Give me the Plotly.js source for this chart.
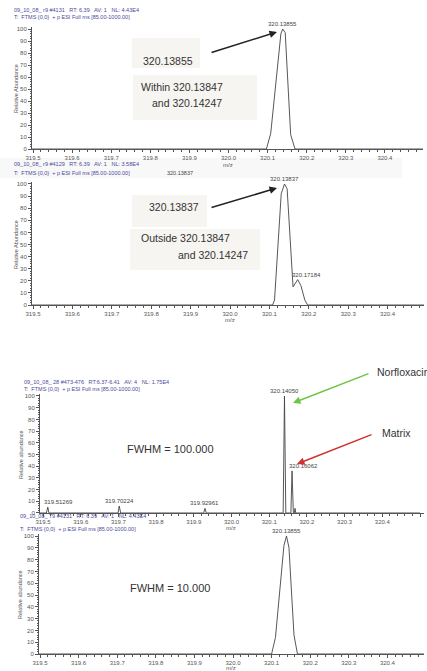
<!DOCTYPE html>
<html><head><meta charset="utf-8">
<script src="https://cdn.plot.ly/plotly-3.0.1.min.js"></script>
<style>html,body{margin:0;padding:0;background:#fff}#chart{width:427px;height:671px}</style>
</head><body><div id="chart"></div>
<script>
// ---------- data ----------
// Panel 1: scan #4131, profile peak 320.13855
const p1_mz  = [319.49, 320.097, 320.108, 320.134, 320.1386, 320.145, 320.159, 320.170, 320.50];
const p1_int = [0, 0, 13, 96, 100, 97, 12, 0, 0];
const p1_peak_mz = [320.13855];
const p1_peak_int = [100];
const p1_peak_txt = ['320.13855'];

// Panel 2: scan #4129, peaks 320.13837 and 320.17184
const p2_mz  = [319.49, 320.108, 320.113, 320.130, 320.1384, 320.145, 320.160, 320.1718, 320.180, 320.190, 320.197, 320.50];
const p2_int = [0, 0, 4, 92, 100, 96, 15, 21, 16, 4, 0, 0];
const p2_peak_mz = [320.13837, 320.17184];
const p2_peak_int = [100, 21];
const p2_peak_txt = ['320.13837', '320.17184'];

// Panel 3: FWHM = 100.000
const p3_mz  = [319.49, 319.509, 319.5127, 319.516, 319.699, 319.7022, 319.706, 319.926, 319.9296, 319.933,
                320.137, 320.1405, 320.144, 320.1575, 320.1606, 320.164, 320.1665, 320.1685, 320.1705, 320.50];
const p3_int = [0, 0, 5, 0, 0, 6, 0, 0, 4, 0, 0, 100, 0, 0, 36, 0, 0, 4, 0, 0];
const p3_peak_mz = [320.14050, 320.16062, 319.51269, 319.70224, 319.92961];
const p3_peak_int = [100, 36, 5, 6, 4];
const p3_peak_txt = ['320.14050', '320.16062', '319.51269', '319.70224', '319.92961'];

// Panel 4: FWHM = 10.000 (scan #4131)
const p4_mz  = [319.49, 320.100, 320.110, 320.132, 320.1386, 320.145, 320.158, 320.167, 320.50];
const p4_int = [0, 0, 14, 92, 100, 90, 16, 0, 0];
const p4_peak_mz = [320.13855];
const p4_peak_int = [100];
const p4_peak_txt = ['320.13855'];

const headers = [
  ['09_10_08_ r9 #4131   RT: 6.39   AV: 1   NL: 4.43E4', 'T:  FTMS {0,0}  + p ESI Full ms [85.00-1000.00]'],
  ['09_10_08_ r9 #4129   RT: 6.39   AV: 1   NL: 3.58E4', 'T:  FTMS {0,0}  + p ESI Full ms [85.00-1000.00]'],
  ['09_10_08_ 28 #473-476   RT:6.37-6.41   AV: 4   NL: 1.75E4', 'T:  FTMS {0,0}  + p ESI Full ms [85.00-1000.00]'],
  ['09_10_08_ 79 #4131   RT: 6.39   AV: 1   NL: 4.43E4', 'T:  FTMS {0,0}  + p ESI Full ms [85.00-1000.00]']
];
const yTitles = ['Relative Abundance', 'Relative Abundance', 'Relative abundance', 'Relative abundance'];

// ---------- layout helpers ----------
const W = 427, H = 671;
const FONT = 'Arial, "Liberation Sans", sans-serif';
const px = x => x / W;
const py = y => 1 - y / H;

function axes(s) {
  const yppu = (s.y0 - s.y100) / 100;
  const ymax = 101.5;
  const topPx = s.y100 - (ymax - 100) * yppu;
  const x0 = 319.5 + (s.left - s.xPx0) / s.ppu;
  const x1 = 319.5 + (s.right - s.xPx0) / s.ppu;
  const common = {
    showline: true, linecolor: '#555', linewidth: 1, showgrid: false, zeroline: false,
    ticks: 'outside', tickcolor: '#555', tickwidth: 1,
    tickfont: {family: FONT, size: 6, color: '#555'}
  };
  return {
    x: Object.assign({}, common, {
      domain: [px(s.left), px(s.right)], range: [x0, x1],
      tick0: 319.5, dtick: 0.1, tickformat: '.1f', ticklen: 3,
      minor: {tick0: 319.5, dtick: 0.02, ticks: 'outside', ticklen: 2, tickcolor: '#555', showgrid: false}
    }),
    y: Object.assign({}, common, {
      domain: [py(s.y0), py(topPx)], range: [0, ymax],
      tick0: 0, dtick: 10, ticklen: 3,
      minor: {tick0: 0, dtick: 2, ticks: 'outside', ticklen: 1.5, tickcolor: '#555', showgrid: false}
    })
  };
}

const specs = [
  {y0: 149, y100: 29,  xPx0: 33, ppu: 391, left: 32, right: 423, n: ''},
  {y0: 305, y100: 184, xPx0: 33, ppu: 394, left: 32, right: 424, n: '2'},
  {y0: 513, y100: 396, xPx0: 43, ppu: 377, left: 40, right: 424, n: '3'},
  {y0: 654, y100: 536, xPx0: 40, ppu: 386, left: 39, right: 424, n: '4'}
];

const layout = {
  width: W, height: H, margin: {l: 0, r: 0, t: 0, b: 0},
  paper_bgcolor: '#fff', plot_bgcolor: 'rgba(0,0,0,0)', showlegend: false,
  font: {family: FONT, color: '#333'},
  annotations: [], shapes: []
};
specs.forEach((s, i) => {
  const a = axes(s);
  a.x.anchor = 'y' + s.n; a.y.anchor = 'x' + s.n;
  layout['xaxis' + s.n] = a.x;
  layout['yaxis' + s.n] = a.y;
});

// ---------- traces ----------
const series = [[p1_mz, p1_int], [p2_mz, p2_int], [p3_mz, p3_int], [p4_mz, p4_int]];
const traces = series.map((d, i) => ({
  type: 'scatter', mode: 'lines', x: d[0], y: d[1],
  xaxis: 'x' + specs[i].n, yaxis: 'y' + specs[i].n,
  line: {color: '#444', width: 0.9}, hoverinfo: 'skip'
}));

// ---------- shapes (background boxes) ----------
function box(x0, y0, x1, y1, fill) {
  layout.shapes.push({type: 'rect', xref: 'paper', yref: 'paper', layer: 'below',
    x0: px(x0), x1: px(x1), y0: py(y1), y1: py(y0), fillcolor: fill, line: {width: 0}});
}
box(132, 38, 200, 68, '#f7f5f1');
box(133, 75, 257, 120, '#f7f5f1');
box(0, 158, 402, 178, '#f8f8f8');
box(132, 195, 207, 227, '#f7f5f1');
box(130, 229, 260, 270, '#f7f5f1');

// ---------- annotations ----------
function txt(t, x, y, size, color, anchor, extra) {
  layout.annotations.push(Object.assign({text: t, xref: 'paper', yref: 'paper', x: px(x), y: py(y),
    xanchor: anchor || 'center', yanchor: 'middle', showarrow: false,
    font: {family: FONT, size: size, color: color}}, extra || {}));
}
function arrow(hx, hy, tx, ty, color) {
  layout.annotations.push({text: '', xref: 'paper', yref: 'paper', x: px(hx), y: py(hy),
    ax: tx - hx, ay: ty - hy, showarrow: true, arrowhead: 2, arrowsize: 1, arrowwidth: 1.5,
    arrowcolor: color});
}
function peakLabels(n, mz, it, tx, shifts) {
  mz.forEach((m, i) => layout.annotations.push({text: tx[i], xref: 'x' + n, yref: 'y' + n,
    x: m, y: it[i], xanchor: 'center', yanchor: 'bottom', yshift: 0, xshift: (shifts && shifts[i]) || 0,
    showarrow: false, font: {family: FONT, size: 6, color: '#444'}}));
}

// headers
const headerPos = [[12, 10, 17], [12, 164, 173], [22, 382, 389], [18, 516, 529]];
headers.forEach((h, i) => {
  txt(h[0], headerPos[i][0], headerPos[i][1], 5.5, '#4a4a9a', 'left');
  txt(h[1], headerPos[i][0], headerPos[i][2], 5.5, '#4a4a9a', 'left');
});
// y titles
const yTitlePos = [[16, 89], [16, 245], [21, 455], [20, 595]];
yTitles.forEach((t, i) => txt(t, yTitlePos[i][0], yTitlePos[i][1], 5.5, '#555', 'center', {textangle: -90}));
// m/z
[[228, 165], [230, 320], [231, 528], [231, 668]].forEach(p => txt('m/z', p[0], p[1], 6, '#555', 'center'));
// stray label in panel 2 header
txt('320.13837', 180, 173, 5.5, '#444', 'center');

// peak labels
peakLabels('', p1_peak_mz, p1_peak_int, p1_peak_txt, [0]);
peakLabels('2', p2_peak_mz, p2_peak_int, p2_peak_txt, [0, 9]);
peakLabels('3', p3_peak_mz, p3_peak_int, p3_peak_txt, [0, 11, 11, 0, 0]);
peakLabels('4', p4_peak_mz, p4_peak_int, p4_peak_txt, [0]);

// big texts
txt('320.13855', 167.5, 61, 10.5, '#333');
txt('Within 320.13847', 182, 87, 10.5, '#333');
txt('and 320.14247', 187, 103, 10.5, '#333');
txt('320.13837', 173.5, 207, 10.5, '#333');
txt('Outside 320.13847', 185, 238, 10.5, '#333');
txt('and 320.14247', 212.5, 255, 10.5, '#333');
txt('FWHM = 100.000', 170.5, 449, 11, '#333');
txt('FWHM = 10.000', 170, 588, 11, '#333');
txt('Norfloxacin', 375, 372, 10.5, '#333', 'left');
txt('Matrix', 380, 433, 10.5, '#333', 'left');

// arrows
arrow(277, 32, 210, 53, '#222');
arrow(277, 188, 210, 208, '#222');
arrow(293, 403, 370, 373, '#6cc644');
arrow(297, 464, 373, 434, '#d0312d');

Plotly.newPlot('chart', traces, layout, {staticPlot: true, displayModeBar: false});
</script>
</body></html>
